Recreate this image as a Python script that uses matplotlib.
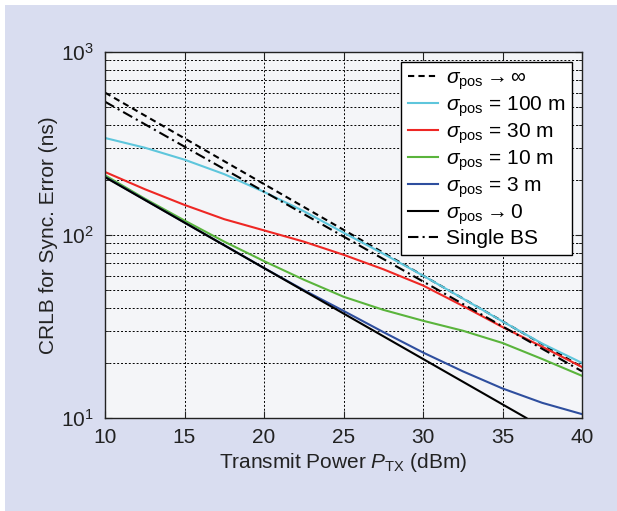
import numpy as np
import matplotlib.pyplot as plt
from matplotlib.patches import Rectangle

plt.rcParams['font.family'] = ['Liberation Sans', 'DejaVu Sans']
plt.rcParams['mathtext.fontset'] = 'custom'
plt.rcParams['mathtext.rm'] = 'Liberation Sans'
plt.rcParams['mathtext.it'] = 'Liberation Sans:italic'
plt.rcParams['mathtext.sf'] = 'Liberation Sans'
plt.rcParams['font.size'] = 15

# data (CRLB in ns vs transmit power in dBm)
p = [10, 12.5, 15, 17.5, 20, 22.5, 25, 27.5, 30, 32.5, 35, 37.5, 40]
crlb_100m = [339, 300, 258, 215, 172, 135, 103, 79, 60, 45, 33.7, 25.5, 20]
crlb_30m = [221, 178, 146, 122, 106, 92, 78, 65, 53, 41, 31.4, 24.5, 19]
crlb_10m = [212, 158, 120, 92, 72, 57, 46, 39, 34, 30, 25.7, 21, 17]
crlb_3m = [208, 156, 117, 88, 66, 50, 38.5, 29.5, 22.8, 18, 14.5, 12.1, 10.5]
p_inf = [10, 40]
crlb_inf = [600, 19]
p_zero = [10, 36.5]
crlb_zero = [207, 10]
p_single = [10, 40]
crlb_single = [535, 18]

fig = plt.figure(figsize=(6.17, 5.11), dpi=100, facecolor='white')
fig.patches.append(Rectangle((5 / 617, 0), 1, 1 - 5 / 511, transform=fig.transFigure,
                             facecolor='#d9ddf0', edgecolor='none', zorder=-10))
ax = fig.add_axes([105 / 617, 93 / 511, 477 / 617, 366 / 511])
ax.set_facecolor('#f4f5f8')

ax.plot(p_inf, crlb_inf, color='black', ls=(0, (3, 2)), lw=1.5, label=r'$\sigma_{\rm pos} \rightarrow \infty$')
ax.plot(p, crlb_100m, color='#5ec6dc', lw=1.5, label=r'$\sigma_{\rm pos}$ = 100 m')
ax.plot(p, crlb_30m, color='#ee2724', lw=1.5, label=r'$\sigma_{\rm pos}$ = 30 m')
ax.plot(p, crlb_10m, color='#5ab43c', lw=1.5, label=r'$\sigma_{\rm pos}$ = 10 m')
ax.plot(p, crlb_3m, color='#2e4e9e', lw=1.5, label=r'$\sigma_{\rm pos}$ = 3 m')
ax.plot(p_zero, crlb_zero, color='black', lw=1.5, label=r'$\sigma_{\rm pos} \rightarrow 0$')
ax.plot(p_single, crlb_single, color='black', ls=(0, (5, 2, 1, 2)), lw=1.5, label='Single BS')

ax.set_yscale('log')
ax.set_xlim(10, 40)
ax.set_ylim(10, 1000)
ax.set_xticks([10, 15, 20, 25, 30, 35, 40])
ax.grid(True, which='major', color='black', ls=(0, (2, 2)), lw=0.7)
ax.grid(True, which='minor', axis='y', color='black', ls=(0, (2, 2)), lw=0.7)
ax.tick_params(which='both', direction='in', top=True, right=True, colors='#222222', labelcolor='#222222')
ax.tick_params(which='major', length=5)
ax.tick_params(which='minor', length=3)
ax.tick_params(axis='x', pad=7)
ax.tick_params(axis='y', pad=8)
for s in ax.spines.values():
    s.set_linewidth(1.0)
    s.set_color('#222222')

ax.set_xlabel(r'Transmit Power $P_{\rm TX}$ (dBm)', color='#222222', labelpad=3)
ax.set_ylabel('CRLB for Sync. Error (ns)', color='#222222', labelpad=2)

leg = ax.legend(loc='upper right', fancybox=False, framealpha=1, edgecolor='black',
                handlelength=1.45, handletextpad=0.4, borderpad=0.3, labelspacing=0.12,
                borderaxespad=0.5)
leg.get_frame().set_linewidth(1.0)

fig.savefig('out.png', dpi=100, facecolor=fig.get_facecolor())
